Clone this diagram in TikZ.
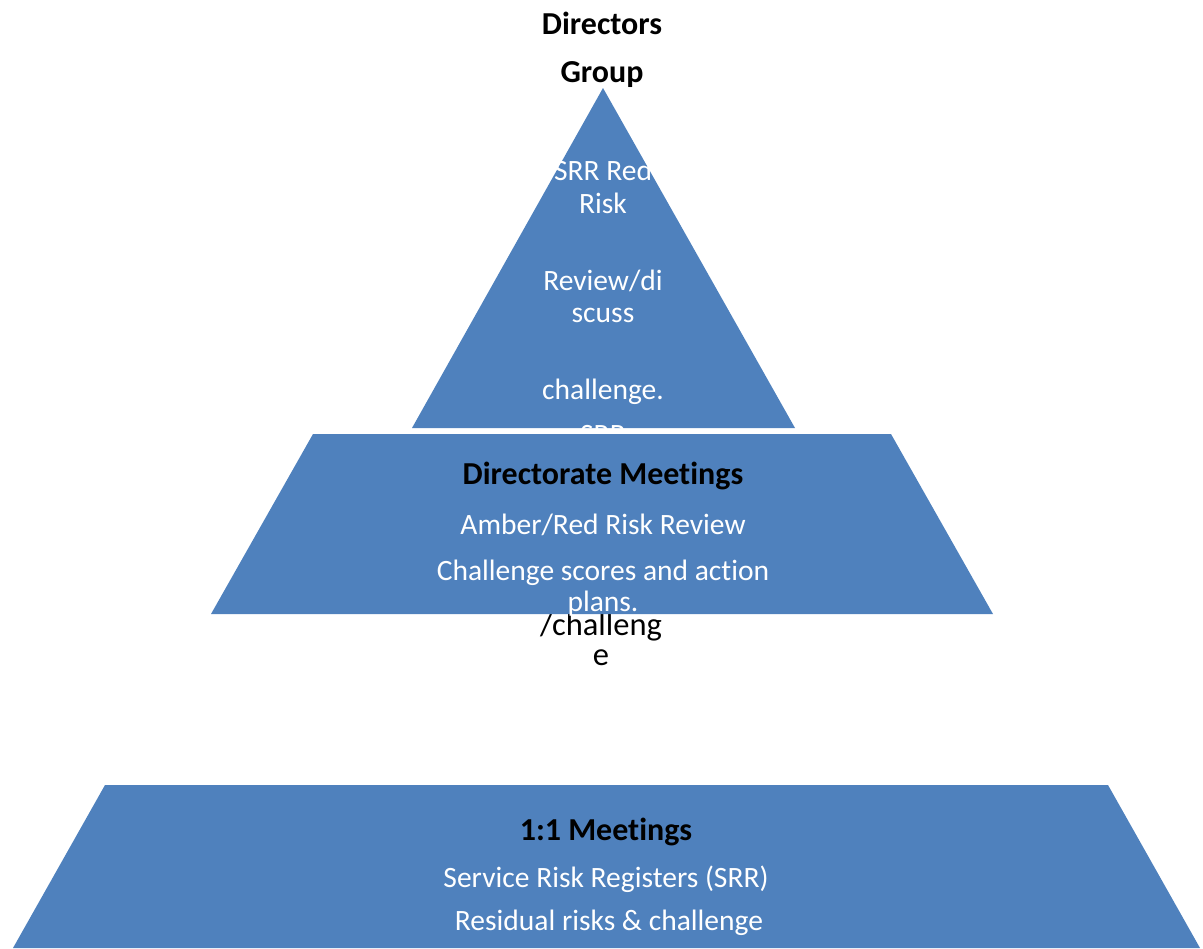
\documentclass[tikz,border=0pt]{standalone}
\usepackage{fontspec}
\setmainfont{Carlito}[Ligatures=NoCommon]
\usepackage{xcolor}
\usepackage{tikz}

\definecolor{tierblue}{HTML}{4F81BD}
\tikzset{
  tier/.style={fill=tierblue, draw=none},
  txt/.style={anchor=base, inner sep=0pt, font=\fontsize{16.8}{19}\selectfont},
  onblue/.style={txt, text=white},
  spill/.style={txt, font=\fontsize{18.5}{21}\selectfont},
  head/.style={txt, font=\fontsize{18.2}{21}\selectfont\bfseries},
}

\begin{document}
\begin{tikzpicture}[x=0.02cm, y=-0.02cm]
 \useasboundingbox (0,0) rectangle (1203,948);
 % top tier
 \fill[tier] (603,88) -- (795,428) -- (412,428) -- cycle;
 \node[head] (dirs) at (602,34) {Directors};
 \node[head] (group) at (602,82) {Group};
 \foreach \y/\ytext [count=\i] in {180/SRR Red, 213/Risk, 290/{Review/di}, 322/scuss, 399/challenge., 444/SRR}
   \node[onblue] (top\i) at (603,\y) {\ytext};
 \foreach \y/\ytext [count=\i] in {635/{/challeng}, 665/e}
   \node[spill] (spill\i) at (601,\y) {\ytext};
 % middle tier
 \fill[tier] (313,434) -- (891,434) -- (993,614) -- (211,614) -- cycle;
 \node[head] (dirmeet) at (603,484) {Directorate Meetings};
 \foreach \y/\ytext [count=\i] in {534/{Amber/Red Risk Review}, 580/Challenge scores and action, 611/plans.}
   \node[onblue] (mid\i) at (603,\y) {\ytext};
 % bottom tier
 \fill[tier] (105,785) -- (1108,785) -- (1200,948) -- (13,948) -- cycle;
 \node[head] (onemeet) at (606,840) {1:1 Meetings};
 \node[onblue] (low1) at (606,887) {Service Risk Registers (SRR)};
 \node[onblue] (low2) at (609,930) {Residual risks \& challenge};
\end{tikzpicture}
\end{document}
